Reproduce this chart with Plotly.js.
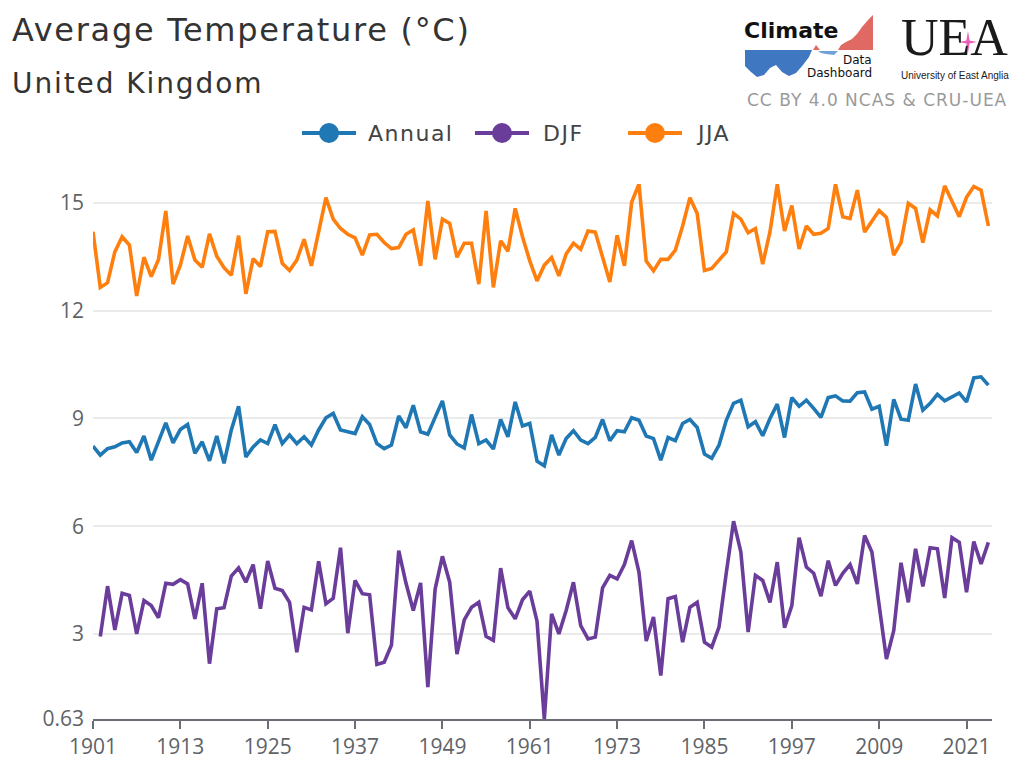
<!DOCTYPE html>
<html>
<head>
<meta charset="utf-8">
<script src="https://cdn.plot.ly/plotly-3.0.1.min.js"></script>
<style>
  html, body { margin: 0; padding: 0; background: #fff; }
  #chart { width: 1024px; height: 779px; }
  /* wider tracking for the heading, legend and credit texts */
  #chart g.annotation[data-index="0"] text { letter-spacing: 1.7px; }
  #chart g.annotation[data-index="1"] text { letter-spacing: 1.9px; }
  #chart g.annotation[data-index="7"] text,
  #chart g.annotation[data-index="8"] text,
  #chart g.annotation[data-index="9"] text { letter-spacing: 1.5px; }
  #chart g.annotation[data-index="10"] text { letter-spacing: 1px; }
</style>
</head>
<body>
<div id="chart"></div>
<script>
// UK seasonal and annual mean temperature (°C)
const annualYears = [];
for (let y = 1901; y <= 2024; y++) annualYears.push(y);
const djfYears = [];
for (let y = 1902; y <= 2024; y++) djfYears.push(y);

const annual = [
  8.23, 7.98, 8.16, 8.21, 8.32, 8.35, 8.05, 8.51, 7.84, 8.33,
  8.88, 8.32, 8.69, 8.83, 8.03, 8.35, 7.82, 8.51, 7.75, 8.68,
  9.34, 7.93, 8.21, 8.40, 8.30, 8.83, 8.30, 8.54, 8.30, 8.49,
  8.26, 8.68, 9.02, 9.14, 8.68, 8.63, 8.58, 9.05, 8.83, 8.30,
  8.16, 8.26, 9.07, 8.74, 9.37, 8.63, 8.56, 9.03, 9.49, 8.54,
  8.29, 8.18, 9.11, 8.30, 8.40, 8.15, 8.97, 8.49, 9.46, 8.79,
  8.86, 7.81, 7.68, 8.54, 7.98, 8.44, 8.66, 8.40, 8.30, 8.47,
  8.97, 8.38, 8.66, 8.63, 9.02, 8.95, 8.51, 8.44, 7.84, 8.47,
  8.38, 8.86, 8.97, 8.75, 8.01, 7.89, 8.26, 8.95, 9.42, 9.51,
  8.77, 8.91, 8.52, 9.00, 9.40, 8.47, 9.58, 9.34, 9.51, 9.28,
  9.03, 9.58, 9.63, 9.49, 9.48, 9.72, 9.74, 9.26, 9.34, 8.24,
  9.53, 8.98, 8.95, 9.96, 9.23, 9.42, 9.67, 9.49, 9.60, 9.71,
  9.46, 10.13, 10.16, 9.93
];

const djf = [
  2.93, 4.33, 3.11, 4.13, 4.07, 3.00, 3.93, 3.79, 3.45,
  4.41, 4.38, 4.51, 4.39, 3.42, 4.41, 2.17, 3.70, 3.73, 4.61,
  4.84, 4.44, 4.93, 3.70, 5.03, 4.27, 4.21, 3.88, 2.49, 3.74,
  3.67, 5.02, 3.84, 3.99, 5.40, 3.02, 4.49, 4.12, 4.09, 2.15,
  2.21, 2.69, 5.32, 4.41, 3.65, 4.42, 1.52, 4.25, 5.16, 4.44,
  2.44, 3.39, 3.74, 3.88, 2.93, 2.82, 4.83, 3.73, 3.42, 3.95,
  4.19, 3.35, 0.63, 3.56, 3.00, 3.65, 4.44, 3.23, 2.86, 2.91,
  4.28, 4.63, 4.53, 4.93, 5.60, 4.72, 2.80, 3.47, 1.84, 3.98,
  4.04, 2.77, 3.74, 3.88, 2.77, 2.63, 3.19, 4.70, 6.14, 5.28,
  3.05, 4.63, 4.49, 3.88, 5.00, 3.17, 3.79, 5.68, 4.86, 4.69,
  4.05, 5.04, 4.35, 4.69, 4.93, 4.39, 5.74, 5.28, 3.84, 2.30,
  3.09, 4.98, 3.88, 5.37, 4.32, 5.40, 5.37, 4.00, 5.68, 5.55,
  4.16, 5.57, 4.95, 5.55
];

const jja = [
  14.20, 12.65, 12.78, 13.64, 14.06, 13.83, 12.41, 13.49, 12.95, 13.43,
  14.78, 12.74, 13.27, 14.08, 13.41, 13.21, 14.14, 13.52, 13.20, 12.99,
  14.09, 12.47, 13.45, 13.23, 14.20, 14.21, 13.32, 13.12, 13.41, 13.99,
  13.25, 14.20, 15.15, 14.55, 14.29, 14.13, 14.03, 13.55, 14.11, 14.13,
  13.90, 13.73, 13.76, 14.13, 14.25, 13.25, 15.06, 13.43, 14.55, 14.43,
  13.49, 13.88, 13.88, 12.74, 14.78, 12.65, 13.95, 13.66, 14.85, 14.06,
  13.39, 12.83, 13.27, 13.48, 12.97, 13.58, 13.88, 13.71, 14.22, 14.19,
  13.49, 12.80, 14.10, 13.25, 15.02, 15.53, 13.38, 13.11, 13.43, 13.43,
  13.69, 14.36, 15.15, 14.71, 13.12, 13.18, 13.41, 13.64, 14.71, 14.55,
  14.17, 14.29, 13.30, 14.20, 15.52, 14.22, 14.93, 13.72, 14.36, 14.13,
  14.16, 14.29, 15.52, 14.62, 14.57, 15.36, 14.19, 14.50, 14.79, 14.60,
  13.55, 13.90, 14.99, 14.85, 13.90, 14.81, 14.64, 15.48, 15.04, 14.62,
  15.16, 15.46, 15.36, 14.36
];

const seriesNames = ['Annual', 'DJF', 'JJA'];
const seriesColors = ['#1f77b4', '#6a3d9a', '#ff7f0e'];

const yTickVals = [0.63, 3, 6, 9, 12, 15, 15.53];
const yTickText = ['0.63', '3', '6', '9', '12', '15', ''];
const xTickVals = [1901, 1913, 1925, 1937, 1949, 1961, 1973, 1985, 1997, 2009, 2021];

const FONT = '"Open Sans", "DejaVu Sans", sans-serif';
const HEAD_FONT = '"DejaVu Sans", sans-serif';

// plot-area geometry in pixels, used to place legend and logo artwork
const M = { l: 93, r: 32, t: 184, b: 60 };
const W = 1024, H = 779;
const PW = W - M.l - M.r, PH = H - M.t - M.b;
const px = x => (x - M.l) / PW;
const py = y => (H - M.b - y) / PH;
function pathFrom(points) {
  return points.map((p, i) => (i ? 'L' : 'M') + px(p[0]).toFixed(5) + ',' + py(p[1]).toFixed(5)).join(' ') + ' Z';
}

const dataTraces = [
  { x: annualYears, y: annual },
  { x: djfYears, y: djf },
  { x: annualYears, y: jja }
].map((s, i) => ({
  type: 'scatter', mode: 'lines', name: seriesNames[i],
  x: s.x, y: s.y, showlegend: false, hoverinfo: 'x+y',
  line: { color: seriesColors[i], width: 3.6 }
}));

// Climate Data Dashboard mark: blue wave and red rising area
const blueWave = [
  [745, 50], [812, 50], [809, 57], [803, 65], [796, 73], [789, 76], [782, 72], [776, 65],
  [770, 68], [764, 75], [757, 77], [751, 72], [745, 66]
];
const blueRipple = [[818, 51], [838, 51], [834, 55], [826, 54], [821, 53]];
const redRise = [
  [838, 50], [873, 50], [873, 15], [868, 20], [862, 27], [857, 34], [852, 39],
  [846, 42], [841, 45]
];
const redDot = [[813, 50], [816, 45], [820, 50]];
// pink four-point star in the UEA mark
const star = [
  [968, 31], [969.6, 40.4], [977, 42], [969.6, 43.6], [968, 53], [966.4, 43.6], [959, 42], [966.4, 40.4]
];

// legend: line segment, round marker and label per series
const legendItems = [
  { x0: 302, x1: 356, tx: 366 },
  { x0: 475, x1: 529, tx: 541 },
  { x0: 628, x1: 682, tx: 694 }
];
const LEG_Y = 133;

const shapes = [
  { type: 'path', xref: 'paper', yref: 'paper', path: pathFrom(blueWave), fillcolor: '#3f78c0', line: { width: 0 } },
  { type: 'path', xref: 'paper', yref: 'paper', path: pathFrom(blueRipple), fillcolor: '#6fa3d8', line: { width: 0 } },
  { type: 'path', xref: 'paper', yref: 'paper', path: pathFrom(redRise), fillcolor: '#e06a63', line: { width: 0 } },
  { type: 'path', xref: 'paper', yref: 'paper', path: pathFrom(redDot), fillcolor: '#e06a63', line: { width: 0 } },
  { type: 'path', xref: 'paper', yref: 'paper', path: pathFrom(star), fillcolor: '#e75fb8', line: { width: 0 } }
];
legendItems.forEach((it, i) => {
  const cx = (it.x0 + it.x1) / 2;
  shapes.push({ type: 'line', xref: 'paper', yref: 'paper',
    x0: px(it.x0), x1: px(it.x1), y0: py(LEG_Y), y1: py(LEG_Y),
    line: { color: seriesColors[i], width: 4 } });
  shapes.push({ type: 'circle', xref: 'paper', yref: 'paper',
    x0: px(cx - 10), x1: px(cx + 10), y0: py(LEG_Y + 10), y1: py(LEG_Y - 10),
    fillcolor: seriesColors[i], line: { width: 0 } });
});

// left-aligned texts keep their start position when tracking is widened
const leftText = (text, x, y, size, color, family) => ({
  text, xref: 'paper', yref: 'paper', x: px(x), y: py(y),
  xanchor: 'left', yanchor: 'middle', align: 'left', showarrow: false,
  font: { family: family || HEAD_FONT, size, color }
});

const annotations = [
  leftText('Average Temperature (°C)', 10, 30, 32, '#333333'),
  leftText('United Kingdom', 10, 84, 28, '#333333'),
  leftText('<b>Climate</b>', 742, 30, 22, '#111111'),
  { text: 'Data', xref: 'paper', yref: 'paper', x: px(874), y: py(60),
    xanchor: 'right', yanchor: 'middle', showarrow: false,
    font: { family: HEAD_FONT, size: 12, color: '#111111' } },
  { text: 'Dashboard', xref: 'paper', yref: 'paper', x: px(874), y: py(73),
    xanchor: 'right', yanchor: 'middle', showarrow: false,
    font: { family: HEAD_FONT, size: 12, color: '#111111' } },
  { text: 'UEA', xref: 'paper', yref: 'paper', x: px(954), y: py(37),
    xanchor: 'center', yanchor: 'middle', showarrow: false,
    font: { family: '"Liberation Serif", serif', size: 52, color: '#1a1a1a' } },
  { text: 'University of East Anglia', xref: 'paper', yref: 'paper', x: px(955), y: py(75),
    xanchor: 'center', yanchor: 'middle', showarrow: false,
    font: { family: '"Liberation Sans", sans-serif', size: 10, color: '#1a1a1a' } }
];
legendItems.forEach((it, i) => {
  annotations.push(leftText(seriesNames[i], it.tx, LEG_Y, 22, '#444444'));
});
annotations.push(leftText('CC BY 4.0 NCAS &amp; CRU-UEA', 745, 100, 17, '#9a9a9a'));

const layout = {
  width: W, height: H,
  margin: M,
  paper_bgcolor: '#ffffff', plot_bgcolor: '#ffffff',
  font: { family: FONT, color: '#555a60' },
  showlegend: false,
  xaxis: {
    range: [1901, 2024.5], tickmode: 'array', tickvals: xTickVals,
    ticks: 'outside', ticklen: 8, tickwidth: 2, tickcolor: '#6b6f75',
    showline: true, linecolor: '#6b6f75', linewidth: 2,
    showgrid: false, zeroline: false,
    tickfont: { family: FONT, size: 21, color: '#5f6368' }
  },
  yaxis: {
    range: [0.63, 15.53], tickmode: 'array', tickvals: yTickVals, ticktext: yTickText,
    showgrid: true, gridcolor: '#ebebeb', gridwidth: 2,
    zeroline: false, showline: false, ticks: '', ticklabelstandoff: 8,
    tickfont: { family: FONT, size: 21, color: '#5f6368' }
  },
  shapes: shapes,
  annotations: annotations
};

Plotly.newPlot('chart', dataTraces, layout, { displayModeBar: false, staticPlot: true });
</script>
</body>
</html>
